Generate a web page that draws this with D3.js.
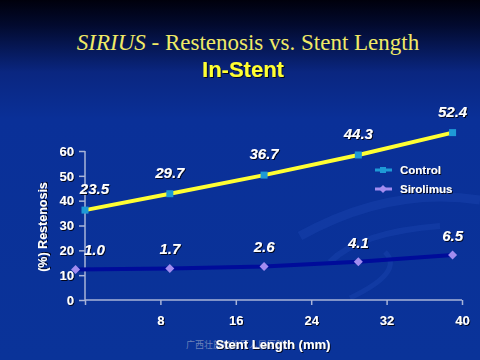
<!DOCTYPE html>
<html><head><meta charset="utf-8">
<script src="https://cdn.jsdelivr.net/npm/d3@7"></script>
<style>html,body{margin:0;padding:0;background:#0a3098;}svg{display:block;}</style>
</head><body>
<script>
// ---- data ----
const stentLength = [0, 9, 19, 29, 39];           // plotted x positions (mm)
const sirolimusX = [-1, 9, 19, 29, 39];
const controlPlot = [36.2, 42.8, 50.3, 58.4, 67.4]; // plotted heights as drawn
const sirolimusPlot = [12.3, 12.7, 13.5, 15.4, 18.1];
const controlLabels = ["23.5", "29.7", "36.7", "44.3", "52.4"];
const sirolimusLabels = ["1.0", "1.7", "2.6", "4.1", "6.5"];
const xTicks = [8, 16, 24, 32, 40];
const yTicks = [0, 10, 20, 30, 40, 50, 60];
const seriesNames = ["Control", "Sirolimus"];

const W = 480, H = 360;
const svg = d3.select("body").append("svg").attr("width", W).attr("height", H);
const defs = svg.append("defs");
const g = defs.append("linearGradient").attr("id", "bg").attr("x1", 0).attr("y1", 0).attr("x2", 0).attr("y2", 1);
g.append("stop").attr("offset", "0").attr("stop-color", "#00000c");
g.append("stop").attr("offset", "0.07").attr("stop-color", "#020a2e");
g.append("stop").attr("offset", "0.2").attr("stop-color", "#0a2680");
g.append("stop").attr("offset", "0.33").attr("stop-color", "#0a3098");
g.append("stop").attr("offset", "1").attr("stop-color", "#0a3399");
svg.append("rect").attr("width", W).attr("height", H).attr("fill", "url(#bg)");

const sh = defs.append("filter").attr("id", "sh").attr("x", "-20%").attr("y", "-20%").attr("width", "140%").attr("height", "140%");
sh.append("feDropShadow").attr("dx", 1).attr("dy", 1).attr("stdDeviation", 0.3).attr("flood-color", "#000010").attr("flood-opacity", 0.9);

// decorative swooshes
const sw = svg.append("g").attr("fill", "none").attr("stroke", "#1a44b0").attr("stroke-opacity", 0.45);
sw.append("path").attr("d", "M300,236 Q390,186 480,200").attr("stroke-width", 9);
sw.append("path").attr("d", "M330,262 Q360,232 440,226").attr("stroke-width", 6);
sw.append("path").attr("d", "M350,298 Q405,272 385,252").attr("stroke-width", 5);

// title
const title = svg.append("text").attr("x", 248).attr("y", 50).attr("text-anchor", "middle")
  .attr("font-family", "'Liberation Serif','DejaVu Serif',serif").attr("font-size", 23).attr("fill", "#f0ea66");
title.append("tspan").attr("font-style", "italic").text("SIRIUS");
title.append("tspan").text(" - Restenosis vs. Stent Length");
svg.append("text").attr("x", 243).attr("y", 77).attr("text-anchor", "middle")
  .attr("font-family", "'Liberation Sans',Arial,sans-serif").attr("font-weight", "bold").attr("font-size", 22)
  .attr("fill", "#ffff33").attr("filter", "url(#sh)").text("In-Stent");

// scales
const x = d3.scaleLinear().domain([0, 40]).range([85, 462]);
const y = d3.scaleLinear().domain([0, 60]).range([300, 151]);

const axisColor = "#a8b4d8";
const yAxis = svg.append("g").attr("transform", "translate(85,0)")
  .call(d3.axisLeft(y).tickValues(yTicks).tickSize(6).tickPadding(5));
const xAxis = svg.append("g").attr("transform", "translate(0,300)")
  .call(d3.axisBottom(x).tickValues([0].concat(xTicks)).tickFormat(d => d === 0 ? "" : d).tickSize(5).tickPadding(11));
[yAxis, xAxis].forEach(a => {
  a.select(".domain").attr("stroke", axisColor).attr("stroke-width", 1.5);
  a.selectAll(".tick line").attr("stroke", axisColor).attr("stroke-width", 1.5);
  a.selectAll(".tick text").attr("fill", "#ffffff").attr("font-family", "'Liberation Sans',Arial,sans-serif")
    .attr("font-weight", "bold").attr("font-size", 13).attr("filter", "url(#sh)");
});
yAxis.select(".domain").attr("d", "M0,151V300");
xAxis.select(".domain").attr("d", "M85,0H462");

// axis titles
svg.append("text").attr("transform", "translate(47,227) rotate(-90)").attr("text-anchor", "middle")
  .attr("font-family", "'Liberation Sans',Arial,sans-serif").attr("font-weight", "bold").attr("font-size", 12.5)
  .attr("fill", "#ffffff").attr("filter", "url(#sh)").text("(%) Restenosis");
svg.append("text").attr("x", 186).attr("y", 348)
  .attr("font-family", "'Noto Sans CJK SC',sans-serif").attr("font-size", 9).attr("fill", "#9aa6c8").attr("fill-opacity", 0.7)
  .text("广西壮族自治区人民医院");
svg.append("text").attr("x", 273).attr("y", 349).attr("text-anchor", "middle")
  .attr("font-family", "'Liberation Sans',Arial,sans-serif").attr("font-weight", "bold").attr("font-size", 13)
  .attr("fill", "#ffffff").attr("filter", "url(#sh)").text("Stent Length (mm)");

// lines
const ctrl = stentLength.map((d, i) => ({x: d, y: controlPlot[i], label: controlLabels[i]}));
const siro = sirolimusX.map((d, i) => ({x: d, y: sirolimusPlot[i], label: sirolimusLabels[i]}));
const line = d3.line().x(d => x(d.x)).y(d => y(d.y));

svg.append("path").datum(siro).attr("d", line).attr("fill", "none").attr("stroke", "#000c9a").attr("stroke-width", 4);
svg.append("path").datum(ctrl).attr("d", line).attr("fill", "none").attr("stroke", "#ffff33").attr("stroke-width", 4);

svg.selectAll(".sq").data(ctrl).join("rect").attr("class", "sq")
  .attr("x", d => x(d.x) - 3.5).attr("y", d => y(d.y) - 3.5).attr("width", 7).attr("height", 7).attr("fill", "#1e9ad6");
const diamond = r => `M0,${-r}L${r},0L0,${r}L${-r},0Z`;
svg.selectAll(".dm").data(siro).join("path").attr("class", "dm")
  .attr("transform", d => `translate(${x(d.x)},${y(d.y)})`)
  .attr("d", diamond(4.5)).attr("fill", "#a28cf0");

// data labels
const lblFont = sel => sel.attr("text-anchor", "middle").attr("font-family", "'Liberation Sans',Arial,sans-serif")
  .attr("font-weight", "bold").attr("font-style", "italic").attr("font-size", 15).attr("fill", "#ffffff").attr("filter", "url(#sh)");
svg.selectAll(".cl").data(ctrl).join("text").attr("class", "cl")
  .attr("x", d => x(Math.max(d.x, 1))).attr("y", d => y(d.y) - 16).text(d => d.label).call(lblFont);
svg.selectAll(".sl").data(siro).join("text").attr("class", "sl")
  .attr("x", d => x(Math.max(d.x, 1))).attr("y", d => y(d.y) - 14).text(d => d.label).call(lblFont);

// legend
const leg = svg.append("g");
seriesNames.forEach((n, i) => {
  const ly = 170 + i * 19;
  leg.append("line").attr("x1", 375).attr("x2", 392).attr("y1", ly).attr("y2", ly)
    .attr("stroke", i === 0 ? "#1e9ad6" : "#a28cf0").attr("stroke-width", 3);
  if (i === 0) leg.append("rect").attr("x", 380).attr("y", ly - 3).attr("width", 6).attr("height", 6).attr("fill", "#1e9ad6");
  else leg.append("path").attr("transform", `translate(383,${ly})`).attr("d", diamond(4)).attr("fill", "#a28cf0");
  leg.append("text").attr("x", 400).attr("y", ly + 4).attr("font-family", "'Liberation Sans',Arial,sans-serif")
    .attr("font-weight", "bold").attr("font-size", 11.5).attr("fill", "#ffffff").attr("filter", "url(#sh)").text(n);
});
</script>
</body></html>
